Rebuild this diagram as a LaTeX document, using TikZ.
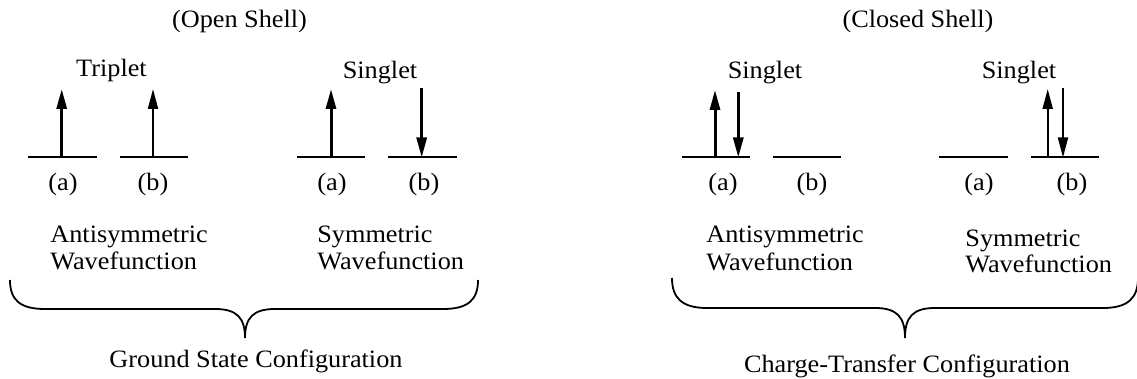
\documentclass[tikz,border=0pt]{standalone}
\usepackage{fontspec}
\setmainfont{Liberation Serif}[FakeStretch=1.05]
\usetikzlibrary{arrows.meta}
\begin{document}
\begin{tikzpicture}[x=0.5pt,y=-0.5pt,
  every node/.style={inner sep=0pt,font=\fontsize{12.5pt}{13.5pt}\selectfont},
  lbl/.style={anchor=base},
  lftxt/.style={anchor=base west},
  level/.style={line width=1pt},
  spinthick/.style={line width=1.5pt,-{Triangle[length=10pt,width=5pt]}},
  spinthin/.style={line width=1pt,-{Triangle[length=10pt,width=5pt]}},
  bracepath/.style={line width=0.9pt}]
\useasboundingbox (0,0) rectangle (1137,379);

% titles
\node[lbl] (open) at (239.5,27.5) {(Open Shell)};
\node[lbl] (closed) at (918,28) {(Closed Shell)};
\node[lbl] (trip) at (111.5,77) {Triplet};
\node[lbl] (sing1) at (380,79) {Singlet};
\node[lbl] (sing2) at (765,79) {Singlet};
\node[lbl] (sing3) at (1019,79) {Singlet};

% levels (coordinates)
\foreach \n/\a/\b in {L1/28/97,L2/120/188,L3/297/365,L4/388/457,
                      R1/682/750,R2/773/841,R3/939/1008,R4/1031/1099}{
  \coordinate (\n w) at (\a,157.5);
  \coordinate (\n e) at (\b,157.5);
  \draw[level] (\n w) -- (\n e);
}

% spin arrows
\coordinate (a1b) at (61.7,157.5);  \coordinate (a1t) at (61.7,89);
\coordinate (a2b) at (153,157.5);   \coordinate (a2t) at (153,89);
\coordinate (a3b) at (331,157.5);   \coordinate (a3t) at (331,89);
\coordinate (a4b) at (421.7,157.5); \coordinate (a4t) at (421.7,88);
\coordinate (a5b) at (715,157.5);   \coordinate (a5t) at (715,90);
\coordinate (a6b) at (738.3,157.5); \coordinate (a6t) at (738.3,92);
\coordinate (a7b) at (1047.7,157.5);\coordinate (a7t) at (1047.7,89);
\coordinate (a8b) at (1063,157.5);  \coordinate (a8t) at (1063,88);
\draw[spinthick] (a1b) -- (a1t);
\draw[spinthin]  (a2b) -- (a2t);
\draw[spinthick] (a3b) -- (a3t);
\draw[spinthick] (a4t) -- (a4b);
\draw[spinthick] (a5b) -- (a5t);
\draw[spinthick] (a6t) -- (a6b);
\draw[spinthin]  (a7b) -- (a7t);
\draw[spinthin]  (a8t) -- (a8b);

% (a)/(b) labels
\node[lbl] (la1) at (63,191) {(a)};
\node[lbl] (lb1) at (153,191) {(b)};
\node[lbl] (la2) at (332,191) {(a)};
\node[lbl] (lb2) at (424,191) {(b)};
\node[lbl] (la3) at (723,191) {(a)};
\node[lbl] (lb3) at (812,191) {(b)};
\node[lbl] (la4) at (979,191) {(a)};
\node[lbl] (lb4) at (1072,191) {(b)};

% wavefunction labels
\node[lftxt] (anti1) at (50,243) {Antisymmetric};
\node[lftxt] (wf1)   at (50,270) {Wavefunction};
\node[lftxt] (sym1)  at (317,243) {Symmetric};
\node[lftxt] (wf2)   at (317,270) {Wavefunction};
\node[lftxt] (anti2) at (706,243) {Antisymmetric};
\node[lftxt] (wf3)   at (706,271) {Wavefunction};
\node[lftxt] (sym2)  at (965,247) {Symmetric};
\node[lftxt] (wf4)   at (965,273) {Wavefunction};

% braces
\draw[bracepath] (10,280) .. controls (10,300) and (20,309) .. (45,309)
  -- (215,309) .. controls (237,309) and (245,318) .. (245,338)
  .. controls (245,318) and (253,309) .. (275,309)
  -- (443,309) .. controls (468,309) and (478,300) .. (478,280);
\draw[bracepath] (672,278) .. controls (672,298) and (682,308) .. (707,308)
  -- (875,308) .. controls (897,308) and (905,317) .. (905,338)
  .. controls (905,317) and (913,308) .. (935,308)
  -- (1103,308) .. controls (1128,308) and (1138,298) .. (1138,278);

\node[lbl] (gs) at (256,368) {Ground State Configuration};
\node[lbl] (ct) at (907,373) {Charge-Transfer Configuration};
\end{tikzpicture}
\end{document}
